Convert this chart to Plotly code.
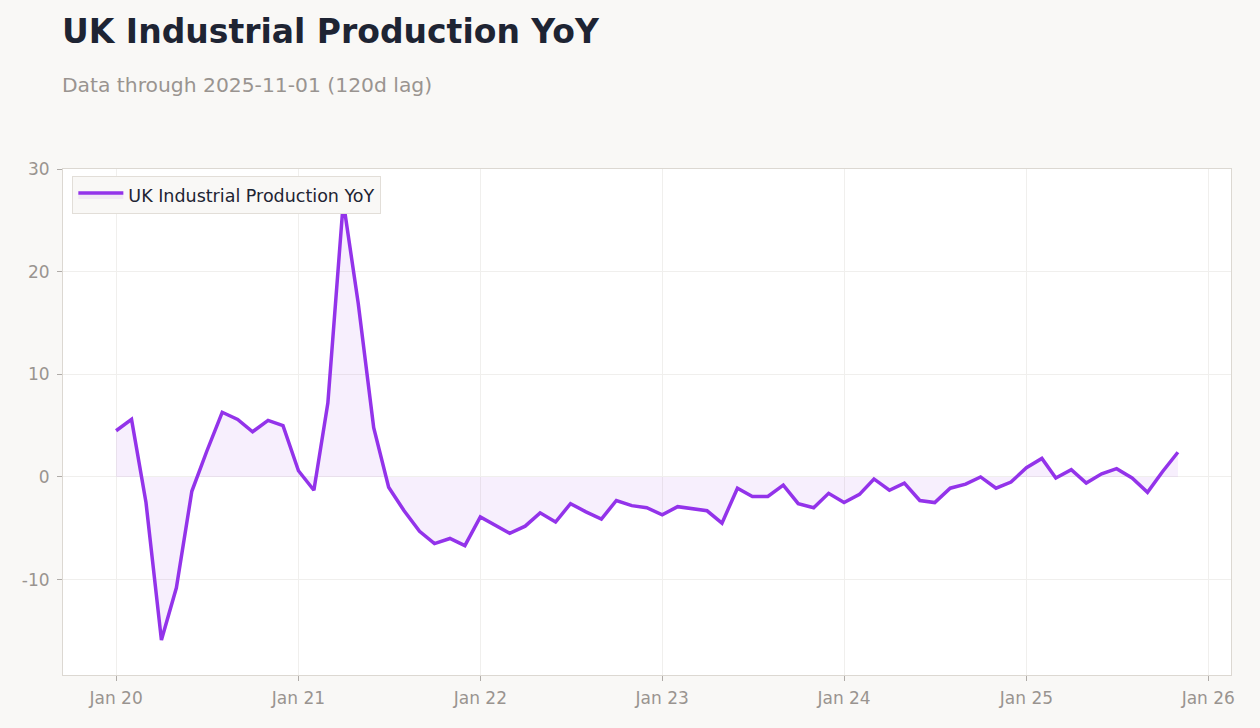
import plotly.graph_objects as go
import pandas as pd

dates = pd.date_range("2020-01-01", "2025-11-01", freq="MS")
values = [
    4.5, 5.6, -2.5, -15.9, -10.8, -1.4, 2.5, 6.3, 5.6, 4.4, 5.5, 5.0,
    0.6, -1.3, 7.2, 26.8, 16.9, 4.8, -1.0, -3.3, -5.3, -6.5, -6.0, -6.7,
    -3.9, -4.7, -5.5, -4.8, -3.5, -4.4, -2.6, -3.4, -4.1, -2.3, -2.8, -3.0,
    -3.7, -2.9, -3.1, -3.3, -4.5, -1.1, -1.9, -1.9, -0.8, -2.6, -3.0, -1.6,
    -2.5, -1.7, -0.2, -1.3, -0.6, -2.3, -2.5, -1.1, -0.7, 0.0, -1.1, -0.5,
    0.9, 1.8, -0.1, 0.7, -0.6, 0.3, 0.8, -0.1, -1.5, 0.5, 2.4,
]

title = "UK Industrial Production YoY"
subtitle = "Data through 2025-11-01 (120d lag)"

y_tick_vals = [-10, 0, 10, 20, 30]
y_tick_text = ["-10", "0", "10", "20", "30"]

span = dates[-1] - dates[0]
pad = span * 0.05
x_range = [dates[0] - pad, dates[-1] + pad]

tick_vals = pd.date_range("2020-01-01", "2026-01-01", freq="YS")

FONT = "DejaVu Sans"

fig = go.Figure()
fig.add_trace(go.Scatter(
    x=dates, y=values, mode="lines", name=title,
    line=dict(color="#9333ea", width=3.5),
    fill="tozeroy", fillcolor="rgba(147,51,234,0.08)",
))

fig.update_layout(
    width=1260, height=728,
    paper_bgcolor="#f9f8f6", plot_bgcolor="#ffffff",
    margin=dict(l=63, r=29, t=169, b=53),
    font=dict(family=FONT, color="#999490", size=17),
    showlegend=True,
    legend=dict(
        x=0.008, y=0.986, xanchor="left", yanchor="top",
        bgcolor="#f9f8f6", bordercolor="#e2ded8", borderwidth=1,
        itemwidth=45,
        font=dict(size=17.5, color="#1e2433", family=FONT),
    ),
)
fig.add_annotation(text="<b>" + title + "</b>", xref="paper", yref="paper",
                   x=0, y=1 + (169 - 31) / 506, xanchor="left", yanchor="middle",
                   xshift=-3,
                   showarrow=False, font=dict(size=33, color="#1e2433", family=FONT))
fig.add_annotation(text=subtitle, xref="paper", yref="paper",
                   x=0, y=1 + (169 - 85) / 506, xanchor="left", yanchor="middle",
                   xshift=-3,
                   showarrow=False, font=dict(size=20.3, color="#999490", family=FONT))

fig.update_xaxes(
    range=x_range, tickvals=tick_vals, tickformat="%b %y",
    showgrid=True, gridcolor="#f0efed", gridwidth=1,
    showline=True, linecolor="#dcd8d2", linewidth=1, mirror=True,
    ticks="outside", ticklen=5, tickcolor="#b0aca8",
    ticklabelstandoff=3,
    zeroline=False,
)
fig.update_yaxes(
    range=[-19.3, 30], tickvals=y_tick_vals, ticktext=y_tick_text,
    showgrid=True, gridcolor="#f0efed", gridwidth=1,
    showline=True, linecolor="#dcd8d2", linewidth=1, mirror=True,
    ticks="outside", ticklen=5, tickcolor="#b0aca8",
    ticklabelstandoff=4,
    zeroline=False,
)

fig.write_html("out.html")
